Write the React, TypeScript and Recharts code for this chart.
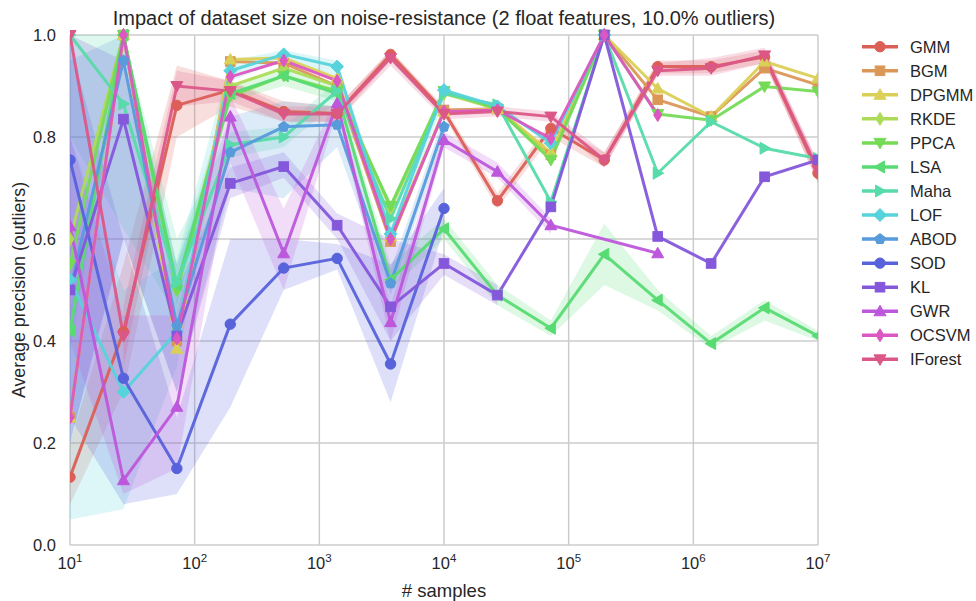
import React from 'react';
import { ComposedChart, Line, Area, XAxis, YAxis, CartesianGrid, Label } from 'recharts';

// sample sizes (log-spaced, 15 points)
const samples = [10, 26.83, 71.97, 193.07, 517.95, 1389.5, 3727.6, 10000, 26827, 71969, 193070, 517947, 1389495, 3727594, 10000000];
const xTicks = [10, 100, 1000, 10000, 100000, 1000000, 10000000];
const yTicks = [0, 0.2, 0.4, 0.6, 0.8, 1.0];

const GMM = [0.133, 0.418, 0.862, 0.892, 0.85, 0.846, 0.962, 0.85, 0.675, 0.817, 0.755, 0.938, 0.938, 0.957, 0.729];
const BGM = [0.25, 1.0, 0.4, 0.948, 0.945, 0.9, 0.595, 0.853, 0.855, 0.765, 1.0, 0.873, 0.84, 0.935, 0.902];
const DPGMM = [0.25, 1.0, 0.385, 0.952, 0.955, 0.915, 0.605, 0.85, 0.855, 0.77, 1.0, 0.895, 0.84, 0.948, 0.915];
const RKDE = [0.6, 1.0, 0.5, 0.9, 0.935, 0.9, 0.66, 0.885, 0.855, 0.76, 1.0, null, null, null, null];
const PPCA = [0.55, 1.0, 0.5, 0.88, 0.92, 0.89, 0.665, 0.89, 0.855, 0.755, 1.0, 0.845, 0.833, 0.899, 0.889];
const LSA = [0.42, 1.0, 0.51, 0.885, 0.92, 0.885, 0.52, 0.62, 0.49, 0.425, 0.57, 0.48, 0.395, 0.465, 0.41];
const Maha = [1.0, 0.865, 0.515, 0.785, 0.8, 0.89, 0.64, 0.885, 0.863, 0.673, 1.0, 0.729, 0.83, 0.778, 0.758];
const LOF = [0.52, 0.3, 0.418, 0.93, 0.962, 0.938, 0.61, 0.892, 0.86, 0.788, 1.0, null, null, null, null];
const ABOD = [0.5, 0.95, 0.43, 0.77, 0.82, 0.824, 0.513, 0.82, null, null, null, null, null, null, null];
const SOD = [0.755, 0.327, 0.15, 0.433, 0.543, 0.562, 0.355, 0.66, null, null, null, null, null, null, null];
const KL = [0.5, 0.835, 0.41, 0.709, 0.742, 0.627, 0.467, 0.552, 0.49, 0.663, 1.0, 0.605, 0.552, 0.722, 0.755];
const GWR = [0.625, 0.127, 0.271, 0.84, 0.572, 0.866, 0.437, 0.794, 0.732, 0.627, null, 0.572, null, null, null];
const OCSVM = [0.25, 1.0, 0.405, 0.918, 0.95, 0.91, 0.6, 0.85, 0.853, 0.797, 1.0, 0.843, null, null, null];
const IForest = [1.0, 0.41, 0.9, 0.89, 0.845, 0.845, 0.955, 0.845, 0.85, 0.84, 0.755, 0.93, 0.935, 0.96, 0.735];

// confidence bands [low, high]
const GMM_band = [[0.08, 0.2], [0.3, 0.55], [0.8, 0.94], [0.86, 0.91], [0.83, 0.87], [0.83, 0.86], [0.95, 0.97], [0.84, 0.86], [0.66, 0.69], [0.8, 0.83], [0.74, 0.77], [0.925, 0.95], [0.925, 0.95], [0.945, 0.97], [0.71, 0.75]];
const Maha_band = [[0.8, 1.0], [0.62, 1.0], [0.45, 0.6], [0.76, 0.81], [0.78, 0.82], [0.87, 0.91], [0.62, 0.66], null, null, null, null, null, null, null, null];
const LSA_band = [[0.38, 0.46], [0.97, 1.0], [0.47, 0.55], [0.87, 0.9], [0.9, 0.94], [0.87, 0.9], [0.5, 0.55], [0.6, 0.64], [0.47, 0.51], [0.41, 0.44], [0.51, 0.63], [0.46, 0.5], [0.385, 0.41], [0.44, 0.48], [0.4, 0.42]];
const LOF_band = [[0.05, 0.8], [0.07, 0.5], [0.35, 0.56], [0.91, 0.95], [0.95, 0.97], [0.92, 0.95], [0.59, 0.63], [0.87, 0.91], null, null, null, null, null, null, null];
const ABOD_band = [[0.2, 0.95], [0.6, 1.0], [0.3, 0.55], [0.7, 0.84], [0.68, 0.87], [0.78, 0.86], [0.49, 0.54], [0.8, 0.84], null, null, null, null, null, null, null];
const SOD_band = [[0.25, 0.98], [0.08, 0.6], [0.1, 0.25], [0.27, 0.6], [0.5, 0.6], [0.54, 0.59], [0.28, 0.55], [0.62, 0.7], null, null, null, null, null, null, null];
const KL_band = [[0.2, 1.0], [0.6, 0.95], [0.3, 0.5], [0.68, 0.74], [0.72, 0.77], [0.6, 0.65], [0.4, 0.6], [0.53, 0.57], [0.47, 0.51], null, null, null, null, null, null];
const GWR_band = [[0.4, 0.8], [0.1, 0.45], [0.15, 0.45], [0.75, 0.88], [0.5, 0.66], [0.85, 0.88], [0.4, 0.47], [0.78, 0.81], [0.72, 0.75], [0.61, 0.64], null, [0.56, 0.58], null, null, null];
const IForest_band = [null, [0.35, 0.47], [0.86, 0.93], [0.87, 0.91], [0.83, 0.86], [0.83, 0.86], [0.94, 0.97], [0.835, 0.855], [0.84, 0.86], [0.83, 0.85], [0.74, 0.77], [0.92, 0.945], [0.92, 0.955], [0.945, 0.975], [0.71, 0.75]];

const seriesNames = ['GMM', 'BGM', 'DPGMM', 'RKDE', 'PPCA', 'LSA', 'Maha', 'LOF', 'ABOD', 'SOD', 'KL', 'GWR', 'OCSVM', 'IForest'];
const seriesColors = ['#db5f57', '#db9757', '#dbd057', '#aedb57', '#75db57', '#57db72', '#57dbaa', '#57d3db', '#579bdb', '#5762db', '#8457db', '#bd57db', '#db57c1', '#db5788'];
const seriesShapes = ['circle', 'square', 'up', 'thin', 'down', 'left', 'right', 'diamond', 'pentagon', 'circle', 'square', 'up', 'thin', 'down'];

const seriesValues: Record<string, (number | null)[]> = { GMM, BGM, DPGMM, RKDE, PPCA, LSA, Maha, LOF, ABOD, SOD, KL, GWR, OCSVM, IForest };
const seriesBands: Record<string, (number[] | null)[]> = { GMM: GMM_band, Maha: Maha_band, LSA: LSA_band, LOF: LOF_band, ABOD: ABOD_band, SOD: SOD_band, KL: KL_band, GWR: GWR_band, IForest: IForest_band };

const rows = samples.map((x, i) => {
  const r: any = { x };
  seriesNames.forEach((n) => {
    r[n] = seriesValues[n][i];
    if (seriesBands[n]) r[n + '_band'] = seriesBands[n][i];
  });
  return r;
});

const FONT = '"Liberation Sans", Arial, sans-serif';
const TXT = '#262626';

function Marker({ shape, cx, cy, color }: { shape: string; cx: number; cy: number; color: string }) {
  const s = 6;
  switch (shape) {
    case 'circle':
      return <circle cx={cx} cy={cy} r={5.2} fill={color} stroke={color} />;
    case 'square':
      return <rect x={cx - 4.8} y={cy - 4.8} width={9.6} height={9.6} fill={color} stroke={color} />;
    case 'up':
      return <polygon points={`${cx},${cy - s} ${cx - s},${cy + s * 0.75} ${cx + s},${cy + s * 0.75}`} fill={color} stroke={color} />;
    case 'down':
      return <polygon points={`${cx},${cy + s} ${cx - s},${cy - s * 0.75} ${cx + s},${cy - s * 0.75}`} fill={color} stroke={color} />;
    case 'left':
      return <polygon points={`${cx - s},${cy} ${cx + s * 0.75},${cy - s} ${cx + s * 0.75},${cy + s}`} fill={color} stroke={color} />;
    case 'right':
      return <polygon points={`${cx + s},${cy} ${cx - s * 0.75},${cy - s} ${cx - s * 0.75},${cy + s}`} fill={color} stroke={color} />;
    case 'diamond':
      return <polygon points={`${cx},${cy - 6.5} ${cx + 6.5},${cy} ${cx},${cy + 6.5} ${cx - 6.5},${cy}`} fill={color} stroke={color} />;
    case 'thin':
      return <polygon points={`${cx},${cy - 6.5} ${cx + 4},${cy} ${cx},${cy + 6.5} ${cx - 4},${cy}`} fill={color} stroke={color} />;
    case 'pentagon': {
      const pts = [0, 1, 2, 3, 4].map((k) => {
        const a = -Math.PI / 2 + (k * 2 * Math.PI) / 5;
        return `${cx + 5.5 * Math.cos(a)},${cy + 5.5 * Math.sin(a)}`;
      });
      return <polygon points={pts.join(' ')} fill={color} stroke={color} />;
    }
    default:
      return <circle cx={cx} cy={cy} r={5} fill={color} />;
  }
}

const makeDot = (shape: string, color: string) => (props: any) => {
  const { cx, cy, index, value } = props;
  if (cx == null || cy == null || value == null || isNaN(cy)) return <g key={`e${index}`} />;
  return <Marker key={`m${index}`} shape={shape} cx={cx} cy={cy} color={color} />;
};

const XTick = (props: any) => {
  const { x, y, payload } = props;
  const exp = Math.round(Math.log10(payload.value));
  return (
    <text x={x} y={y + 16} textAnchor="middle" fontSize={16.5} fill={TXT} fontFamily={FONT}>
      <tspan>10</tspan>
      <tspan dy={-7} fontSize={11.5}>{exp}</tspan>
    </text>
  );
};

function LegendBox() {
  return (
    <svg width={126} height={350} style={{ position: 'absolute', left: 850, top: 30 }}>
      {seriesNames.map((n, i) => {
        const cy = 16.7 + i * 24.05;
        return (
          <g key={n}>
            <line x1={12} x2={48} y1={cy} y2={cy} stroke={seriesColors[i]} strokeWidth={3.5} />
            <Marker shape={seriesShapes[i]} cx={30} cy={cy} color={seriesColors[i]} />
            <text x={60} y={cy + 6} fontSize={16.5} fill={TXT} fontFamily={FONT}>{n}</text>
          </g>
        );
      })}
    </svg>
  );
}

export default function App() {
  return (
    <div style={{ position: 'absolute', left: 0, top: 0, width: 976, height: 601, background: '#fff', fontFamily: FONT }}>
      <div style={{ position: 'absolute', left: 0, top: 6, width: 888, textAlign: 'center', fontSize: 20, color: TXT, lineHeight: '24px' }}>
        Impact of dataset size on noise-resistance (2 float features, 10.0% outliers)
      </div>
      <ComposedChart width={976} height={601} data={rows} margin={{ top: 35, right: 158, bottom: 0, left: 10 }}>
        <CartesianGrid stroke="#cccccc" strokeWidth={1.5} />
        <XAxis
          dataKey="x"
          type="number"
          scale="log"
          domain={[10, 10000000]}
          ticks={xTicks}
          allowDataOverflow
          axisLine={false}
          tickLine={false}
          tick={<XTick />}
          height={56}
          interval={0}
        >
          <Label value="# samples" position="insideBottom" offset={4} style={{ fontSize: 18.5, fill: TXT, fontFamily: FONT }} />
        </XAxis>
        <YAxis
          type="number"
          domain={[0, 1]}
          ticks={yTicks}
          axisLine={false}
          tickLine={false}
          width={60}
          tickMargin={8}
          tickFormatter={(v: number) => v.toFixed(1)}
          tick={{ fontSize: 16.5, fill: TXT, fontFamily: FONT }}
          interval={0}
        >
          <Label value="Average precision (outliers)" angle={-90} position="insideLeft" offset={9} style={{ fontSize: 17.8, fill: TXT, fontFamily: FONT, textAnchor: 'middle' }} />
        </YAxis>
        {seriesNames.flatMap((n, i) => {
          const els: any[] = [];
          if (seriesBands[n]) {
            els.push(
              <Area
                key={n + '_a'}
                dataKey={n + '_band'}
                stroke="none"
                fill={seriesColors[i]}
                fillOpacity={0.2}
                isAnimationActive={false}
                dot={false}
                activeDot={false}
                legendType="none"
              />
            );
          }
          els.push(
            <Line
              key={n}
              dataKey={n}
              name={n}
              stroke={seriesColors[i]}
              strokeWidth={3}
              strokeOpacity={0.95}
              connectNulls={n === 'GWR'}
              dot={makeDot(seriesShapes[i], seriesColors[i])}
              activeDot={false}
              isAnimationActive={false}
            />
          );
          return els;
        })}
      </ComposedChart>
      <LegendBox />
    </div>
  );
}
